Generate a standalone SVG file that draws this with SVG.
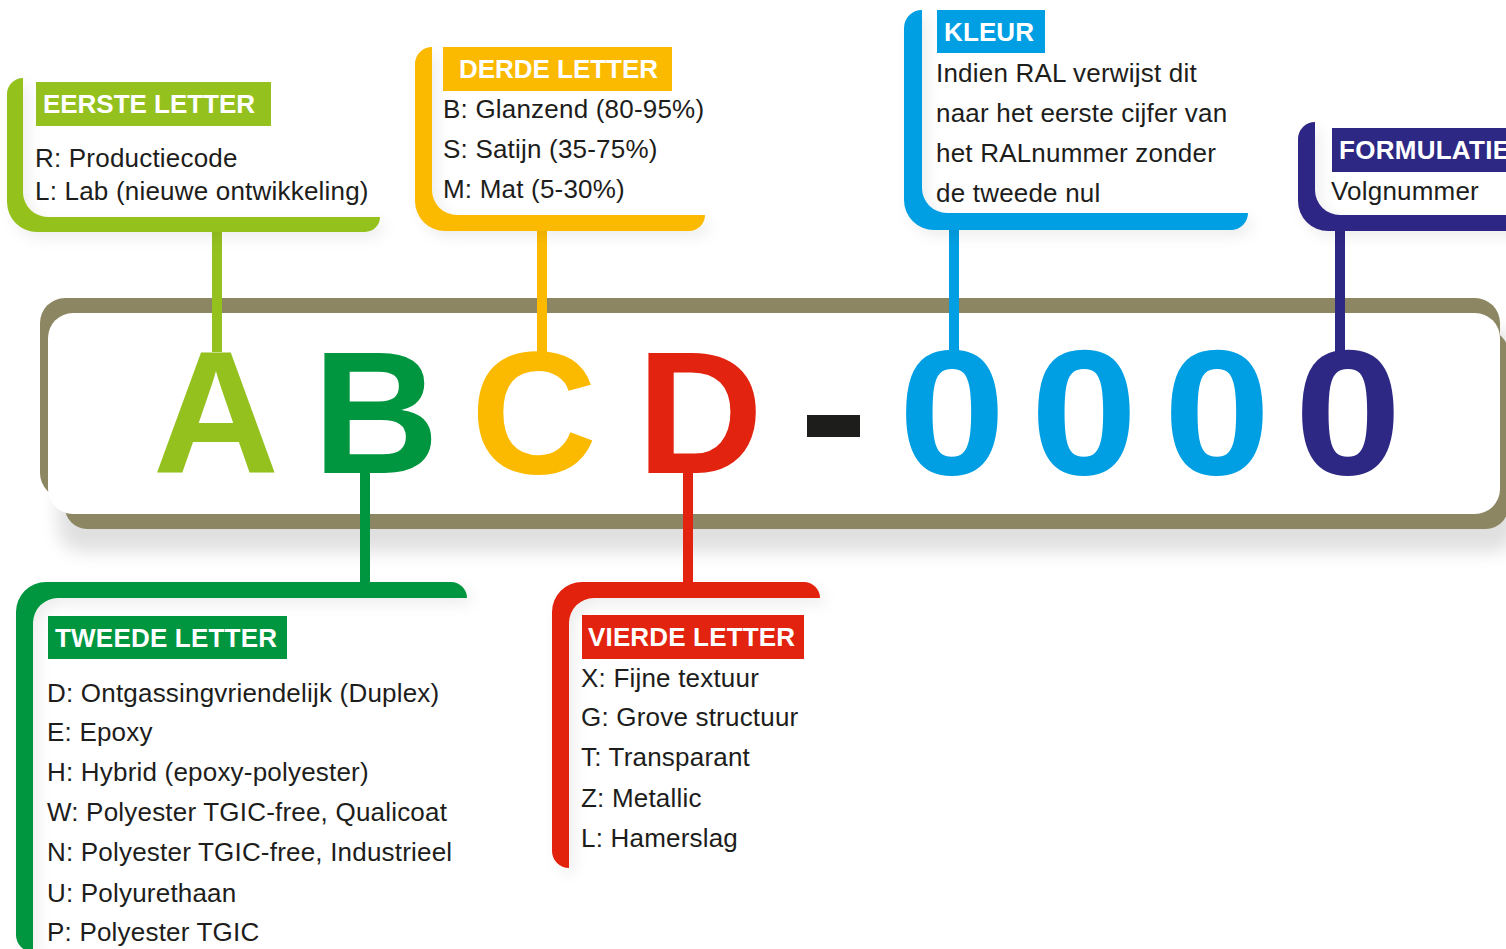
<svg xmlns="http://www.w3.org/2000/svg" width="1506" height="949" viewBox="0 0 1506 949">
<defs>
<style>
.body{font-family:"Liberation Sans",Arial,sans-serif;font-size:26px;fill:#1D1D1B;letter-spacing:0.2px}
.lab{font-family:"Liberation Sans",Arial,sans-serif;font-size:26px;font-weight:bold;fill:#fff}
.big{font-family:"Liberation Sans",Arial,sans-serif;font-size:175px;font-weight:bold;text-anchor:middle}
.c1{fill:#95C11F}.c2{fill:#009640}.c3{fill:#FBBA00}.c4{fill:#E2230F}.c5{fill:#009FE3}.c6{fill:#2E2885}
.s1{stroke:#95C11F}.s2{stroke:#009640}.s3{stroke:#FBBA00}.s4{stroke:#E2230F}.s5{stroke:#009FE3}.s6{stroke:#2E2885}
.conn line{stroke-width:10;fill:none}
</style>
<filter id="sh" x="-10%" y="-20%" width="120%" height="150%">
<feGaussianBlur stdDeviation="9"/>
</filter>
<filter id="ds" x="-10%" y="-10%" width="130%" height="130%">
<feDropShadow dx="5" dy="6" stdDeviation="7" flood-color="#000" flood-opacity="0.07"/>
</filter>
</defs>
<rect width="1506" height="949" fill="#fff"/>

<g id="banner">
<rect x="58" y="330" width="1460" height="222" rx="25" fill="#000" opacity="0.12" filter="url(#sh)"/>
<rect x="40" y="298" width="1460" height="200" rx="25" fill="#8C8762"/>
<rect x="65" y="330" width="1443" height="199" rx="22" fill="#8C8762"/>
<rect x="48" y="313" width="1452" height="201" rx="25" fill="#fff"/>
</g>

<g class="conn" id="connectors">
<line class="s1" x1="217" y1="226" x2="217" y2="352"/>
<line class="s3" x1="542" y1="226" x2="542" y2="352"/>
<line class="s5" x1="954" y1="224" x2="954" y2="352"/>
<line class="s6" x1="1340" y1="226" x2="1340" y2="352"/>
<line class="s2" x1="365" y1="468" x2="365" y2="588"/>
<line class="s4" x1="688" y1="468" x2="688" y2="588"/>
</g>

<g id="code">
<text class="big c1" x="216" y="473">A</text>
<text class="big c2" x="376" y="473">B</text>
<text class="big c3" x="534" y="473">C</text>
<text class="big c4" x="700" y="473">D</text>
<rect x="807" y="415" width="53" height="22" fill="#1D1D1B"/>
<text class="big c5" transform="translate(952 474) scale(1.1 1.02)">0</text>
<text class="big c5" transform="translate(1084 474) scale(1.1 1.02)">0</text>
<text class="big c5" transform="translate(1217 474) scale(1.1 1.02)">0</text>
<text class="big c6" transform="translate(1348 474) scale(1.1 1.02)">0</text>
</g>

<g id="eerste-letter">
<path class="c1" filter="url(#ds)" d="M23,78 V192 A25,25 0 0 0 48,217 H380 A15,15 0 0 1 365,232 H37 A30,30 0 0 1 7,202 V94 A16,16 0 0 1 23,78 Z"/>
<rect class="c1" x="36" y="82" width="235" height="44"/>
<text class="lab" x="43" y="113" textLength="212" lengthAdjust="spacing">EERSTE LETTER</text>
<text class="body" x="35" y="167">R: Productiecode</text>
<text class="body" x="35" y="200">L: Lab (nieuwe ontwikkeling)</text>
</g>

<g id="derde-letter">
<path class="c3" filter="url(#ds)" d="M432,47 V190 A25,25 0 0 0 457,215 H705 A16,16 0 0 1 689,231 H445 A30,30 0 0 1 415,201 V64 A17,17 0 0 1 432,47 Z"/>
<rect class="c3" x="443" y="47" width="229" height="44"/>
<text class="lab" x="459" y="78" textLength="199" lengthAdjust="spacing">DERDE LETTER</text>
<text class="body" x="443" y="118">B: Glanzend (80-95%)</text>
<text class="body" x="443" y="158">S: Satijn (35-75%)</text>
<text class="body" x="443" y="198">M: Mat (5-30%)</text>
</g>

<g id="kleur">
<path class="c5" filter="url(#ds)" d="M922,10 V188 A25,25 0 0 0 947,213 H1248 A17,17 0 0 1 1231,230 H934 A30,30 0 0 1 904,200 V28 A18,18 0 0 1 922,10 Z"/>
<rect class="c5" x="937" y="10" width="108" height="43"/>
<text class="lab" x="944" y="41" textLength="90" lengthAdjust="spacing">KLEUR</text>
<text class="body" x="936" y="82">Indien RAL verwijst dit</text>
<text class="body" x="936" y="122">naar het eerste cijfer van</text>
<text class="body" x="936" y="162">het RALnummer zonder</text>
<text class="body" x="936" y="202">de tweede nul</text>
</g>

<g id="formulatie">
<path class="c6" filter="url(#ds)" d="M1315,122 V190 A25,25 0 0 0 1340,215 H1530 V231 H1328 A30,30 0 0 1 1298,201 V139 A17,17 0 0 1 1315,122 Z"/>
<rect class="c6" x="1332" y="128" width="200" height="44"/>
<text class="lab" x="1339" y="159" textLength="171" lengthAdjust="spacing">FORMULATIE</text>
<text class="body" x="1331" y="200">Volgnummer</text>
</g>

<g id="tweede-letter">
<path class="c2" filter="url(#ds)" d="M33,952 V623 A25,25 0 0 1 58,598 H467 A16,16 0 0 0 451,582 H46 A30,30 0 0 0 16,612 V935 A17,17 0 0 0 33,952 Z"/>
<rect class="c2" x="48" y="616" width="239" height="43"/>
<text class="lab" x="55" y="647" textLength="222" lengthAdjust="spacing">TWEEDE LETTER</text>
<text class="body" x="47" y="702">D: Ontgassingvriendelijk (Duplex)</text>
<text class="body" x="47" y="741">E: Epoxy</text>
<text class="body" x="47" y="781">H: Hybrid (epoxy-polyester)</text>
<text class="body" x="47" y="821">W: Polyester TGIC-free, Qualicoat</text>
<text class="body" x="47" y="861">N: Polyester TGIC-free, Industrieel</text>
<text class="body" x="47" y="902">U: Polyurethaan</text>
<text class="body" x="47" y="941">P: Polyester TGIC</text>
</g>

<g id="vierde-letter">
<path class="c4" filter="url(#ds)" d="M569,868 V623 A25,25 0 0 1 594,598 H820 A16,16 0 0 0 804,582 H582 A30,30 0 0 0 552,612 V851 A17,17 0 0 0 569,868 Z"/>
<rect class="c4" x="582" y="615" width="222" height="44"/>
<text class="lab" x="588" y="646" textLength="207" lengthAdjust="spacing">VIERDE LETTER</text>
<text class="body" x="581" y="687">X: Fijne textuur</text>
<text class="body" x="581" y="726">G: Grove structuur</text>
<text class="body" x="581" y="766">T: Transparant</text>
<text class="body" x="581" y="807">Z: Metallic</text>
<text class="body" x="581" y="847">L: Hamerslag</text>
</g>
</svg>
